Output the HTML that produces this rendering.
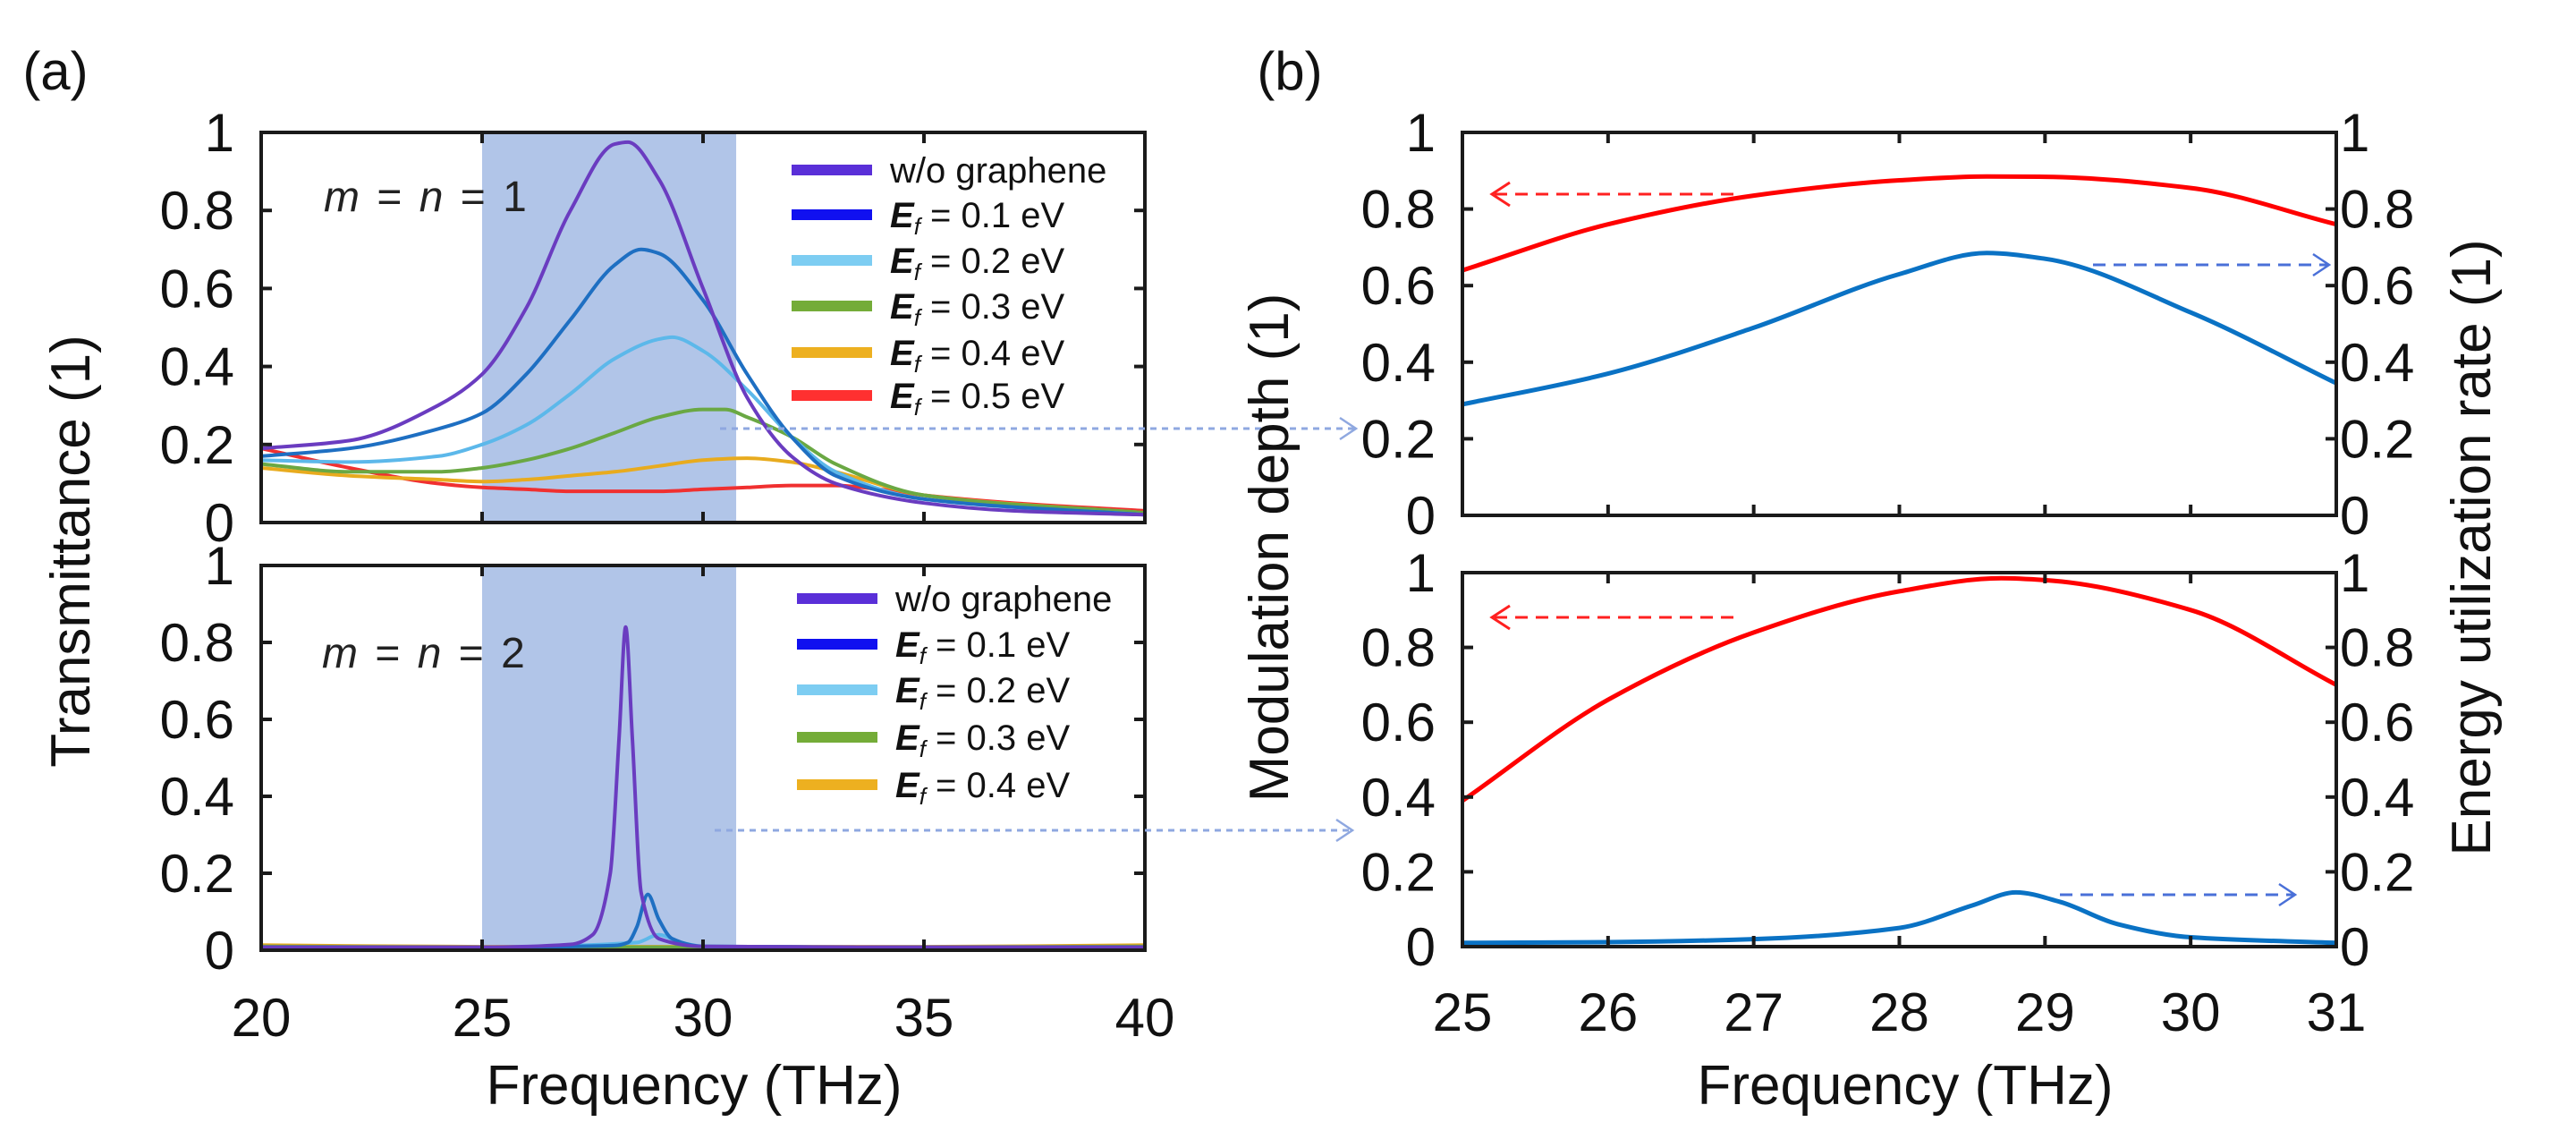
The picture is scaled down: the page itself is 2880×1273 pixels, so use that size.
<!DOCTYPE html>
<html><head><meta charset="utf-8"><style>
html,body{margin:0;padding:0;background:#fff}
svg{display:block;font-family:"Liberation Sans",Arial,sans-serif}
</style></head><body>
<svg id="fig" xmlns="http://www.w3.org/2000/svg" width="2880" height="1273" viewBox="0 0 2880 1273">
<defs>
<marker id="arB" markerWidth="30" markerHeight="30" refX="20" refY="14" orient="auto" markerUnits="userSpaceOnUse"><path d="M2,2 L20,14 L2,26" fill="none" stroke="#4a70d8" stroke-width="2.5"/></marker>
<marker id="arL" markerWidth="30" markerHeight="30" refX="20" refY="14" orient="auto" markerUnits="userSpaceOnUse"><path d="M2,2 L20,14 L2,26" fill="none" stroke="#8fa8e0" stroke-width="2.5"/></marker>
</defs>
<g id="root"></g>
</svg>
<script>
// ---- data: panel (a) ----
const aTopX = {
  wo:[20,22,24,25,26,27,28,28.3,29,30,31,32,33,35,37,40],
  e1:[20,22,24,25,26,27,28,28.6,29,30,31,32,33,35,40],
  e2:[20,22,24,25,26,27,28,29,29.3,30,31,32,33,35,40],
  e3:[20,22,24,25,26,27,28,29,30,30.5,31,32,33,35,40],
  e4:[20,22,24,25,26,27,28,29,30,31,32,33,35,40],
  e5:[20,22,24,25,26,27,28,29,30,31,32,33,34,35,37,40]
};
const aTopWo = [0.19,0.21,0.30,0.38,0.55,0.80,0.97,0.975,0.88,0.60,0.32,0.17,0.10,0.05,0.03,0.02];
const aTopE1 = [0.17,0.19,0.24,0.28,0.38,0.52,0.66,0.70,0.69,0.57,0.38,0.22,0.12,0.06,0.02];
const aTopE2 = [0.16,0.155,0.17,0.20,0.25,0.33,0.42,0.47,0.475,0.44,0.34,0.22,0.13,0.06,0.02];
const aTopE3 = [0.15,0.13,0.13,0.14,0.16,0.19,0.23,0.27,0.29,0.29,0.27,0.22,0.15,0.07,0.025];
const aTopE4 = [0.14,0.12,0.11,0.105,0.11,0.12,0.13,0.145,0.16,0.165,0.155,0.13,0.07,0.025];
const aTopE5 = [0.19,0.14,0.10,0.09,0.085,0.08,0.08,0.08,0.085,0.09,0.095,0.095,0.085,0.07,0.05,0.03];
const aBotX = {
  wo:[20,25,27,27.5,27.9,28.1,28.25,28.4,28.6,29,30,35,40],
  e1:[20,25,28,28.3,28.5,28.75,29,29.3,30,35,40],
  e2:[20,25,28.5,29,29.5,30,35,40],
  e3:[20,25,30,35,40],
  e4:[20,25,30,35,40]
};
const aBotWo = [0.008,0.008,0.015,0.04,0.2,0.55,0.84,0.55,0.15,0.03,0.01,0.008,0.008];
const aBotE1 = [0.008,0.008,0.012,0.02,0.06,0.145,0.08,0.03,0.01,0.008,0.008];
const aBotE2 = [0.008,0.008,0.02,0.04,0.02,0.01,0.008,0.008];
const aBotE3 = [0.01,0.008,0.008,0.008,0.01];
const aBotE4 = [0.012,0.008,0.008,0.008,0.012];
const aXTicks = [20,25,30,35,40];
const yTicks = [0,0.2,0.4,0.6,0.8,1];
const yTickLabels = ["0","0.2","0.4","0.6","0.8","1"];
const shadeRange = [25,30.75];
// ---- data: panel (b) ----
const bTopRedX = [25,26,27,28,28.6,29,30,31];
const bTopRed  = [0.64,0.76,0.835,0.875,0.885,0.884,0.855,0.76];
const bTopBlueX = [25,26,27,28,28.6,29,30,31];
const bTopBlue  = [0.29,0.37,0.49,0.63,0.685,0.67,0.53,0.345];
const bBotRedX = [25,26,27,28,28.7,29,30,31];
const bBotRed  = [0.39,0.66,0.84,0.95,0.985,0.98,0.90,0.70];
const bBotBlueX = [25,26,27,28,28.5,28.8,29.1,29.5,30,31];
const bBotBlue  = [0.01,0.012,0.02,0.05,0.11,0.145,0.12,0.06,0.025,0.01];
const bXTicks = [25,26,27,28,29,30,31];

const NS="http://www.w3.org/2000/svg";
const root=document.getElementById('root');
function mk(tag,attrs,parent){const e=document.createElementNS(NS,tag);for(const k in attrs)e.setAttribute(k,attrs[k]);(parent||root).appendChild(e);return e;}
function txt(s,attrs,parent){const e=mk('text',attrs,parent);e.textContent=s;return e;}
function lin(d0,d1,r0,r1){return v=>r0+(v-d0)/(d1-d0)*(r1-r0);}
// monotone cubic (Fritsch-Carlson) in pixel space
function smooth(pts){
  const n=pts.length;const dx=[],m=[],t=new Array(n);
  for(let i=0;i<n-1;i++){dx[i]=pts[i+1][0]-pts[i][0];m[i]=(pts[i+1][1]-pts[i][1])/dx[i];}
  t[0]=m[0];t[n-1]=m[n-2];
  for(let i=1;i<n-1;i++){if(m[i-1]*m[i]<=0)t[i]=0;else{const w1=2*dx[i]+dx[i-1],w2=dx[i]+2*dx[i-1];t[i]=(w1+w2)/(w1/m[i-1]+w2/m[i]);}}
  let d=`M${pts[0][0].toFixed(1)},${pts[0][1].toFixed(1)}`;
  for(let i=0;i<n-1;i++){const h=dx[i]/3;d+=` C${(pts[i][0]+h).toFixed(1)},${(pts[i][1]+t[i]*h).toFixed(1)} ${(pts[i+1][0]-h).toFixed(1)},${(pts[i+1][1]-t[i+1]*h).toFixed(1)} ${pts[i+1][0].toFixed(1)},${pts[i+1][1].toFixed(1)}`;}
  return d;}
function curve(xs,ys,sx,sy,color,w,name,g){const p=mk('path',{d:smooth(xs.map((x,i)=>[sx(x),sy(ys[i])])),fill:'none',stroke:color,'stroke-width':w,'stroke-linejoin':'round'},g);

return p;}

function panel(L,R,T,B,xd,xticks,name,rightTicks){
  const g=mk('g',{});
  
  
  const sx=lin(xd[0],xd[1],L,R), sy=lin(0,1,B,T);
  return {g,sx,sy,L,R,T,B,xticks,rightTicks};
}
function frame(P,showX){
  const {g,sx,sy,L,R,T,B}=P;
  const f=mk('rect',{x:L,y:T,width:R-L,height:B-T,fill:'none',stroke:'#1a1a1a','stroke-width':4},g);
  
  
  P.xticks.forEach(v=>{mk('line',{x1:sx(v),x2:sx(v),y1:B,y2:B-12,stroke:'#1a1a1a','stroke-width':4},g);mk('line',{x1:sx(v),x2:sx(v),y1:T,y2:T+12,stroke:'#1a1a1a','stroke-width':4},g);});
  yTicks.forEach((v,i)=>{mk('line',{x1:L,x2:L+12,y1:sy(v),y2:sy(v),stroke:'#1a1a1a','stroke-width':4},g);mk('line',{x1:R,x2:R-12,y1:sy(v),y2:sy(v),stroke:'#1a1a1a','stroke-width':4},g);
    const t=txt(yTickLabels[i],{x:L-30,y:sy(v)+21,'font-size':60,'text-anchor':'end',fill:'#111'},g);
    
    
    if(P.rightTicks){const t2=txt(yTickLabels[i],{x:R+4,y:sy(v)+21,'font-size':60,fill:'#111'},g);
      
      }
  });
  if(showX){P.xticks.forEach(v=>{const t=txt(String(v),{x:sx(v),y:showX,'font-size':60,'text-anchor':'middle',fill:'#111'},g);
    
    });}
}
function shade(P){const r=mk('rect',{x:P.sx(shadeRange[0]),y:P.T,width:P.sx(shadeRange[1])-P.sx(shadeRange[0]),height:P.B-P.T,fill:'#b1c5e8'},P.g);
  
  }
function legend(g,x,ys,items){items.forEach((it,i)=>{mk('line',{x1:x,x2:x+90,y1:ys[i],y2:ys[i],stroke:it[0],'stroke-width':12},g);
  const t=txt('',{x:x+110,y:ys[i]+14,'font-size':40,fill:'#111'},g);
  if(it[1]){const e=mk('tspan',{'font-style':'italic','font-weight':'bold'},t);e.textContent='E';const s=mk('tspan',{'font-size':26,'font-style':'italic',dy:8},t);s.textContent='f';const r=mk('tspan',{dy:-8},t);r.textContent=' = '+it[1];}
  else t.textContent='w/o graphene';
  
  });}

const C={wo:'#6a3cc0',e1:'#1e6fc2',e2:'#5cb8ea',e3:'#6aa843',e4:'#e8ab1e',e5:'#f03030'};
const LC={wo:'#5a2fd8',e1:'#1010f0',e2:'#7dcdf2',e3:'#74ac38',e4:'#edb020',e5:'#ff3030'};

// Panel a top
const aT=panel(292,1280,148,584,[20,40],aXTicks,'panel-a-top');
shade(aT);
curve(aTopX.e5,aTopE5,aT.sx,aT.sy,C.e5,4,'line-ef05',aT.g);
curve(aTopX.e4,aTopE4,aT.sx,aT.sy,C.e4,4,'line-ef04',aT.g);
curve(aTopX.e3,aTopE3,aT.sx,aT.sy,C.e3,4,'line-ef03',aT.g);
curve(aTopX.e2,aTopE2,aT.sx,aT.sy,C.e2,4,'line-ef02',aT.g);
curve(aTopX.e1,aTopE1,aT.sx,aT.sy,C.e1,4,'line-ef01',aT.g);
curve(aTopX.wo,aTopWo,aT.sx,aT.sy,C.wo,4,'line-wo-graphene',aT.g);
frame(aT,0);
legend(aT.g,885,[190,240,291,342,394,442],[[LC.wo,null],[LC.e1,'0.1 eV'],[LC.e2,'0.2 eV'],[LC.e3,'0.3 eV'],[LC.e4,'0.4 eV'],[LC.e5,'0.5 eV']]);
(function(){const t=txt('',{x:362,y:236,'font-size':48,fill:'#222','word-spacing':6},aT.g);t.innerHTML='<tspan font-style="italic">m</tspan> = <tspan font-style="italic">n</tspan> = 1';

})();

// Panel a bottom
const aB=panel(292,1280,632,1062,[20,40],aXTicks,'panel-a-bottom');
shade(aB);
curve(aBotX.e4,aBotE4,aB.sx,aB.sy,C.e4,5,'line-ef04',aB.g);
curve(aBotX.e3,aBotE3,aB.sx,aB.sy,C.e3,4,'line-ef03',aB.g);
curve(aBotX.e2,aBotE2,aB.sx,aB.sy,C.e2,4,'line-ef02',aB.g);
curve(aBotX.e1,aBotE1,aB.sx,aB.sy,C.e1,4,'line-ef01',aB.g);
curve(aBotX.wo,aBotWo,aB.sx,aB.sy,C.wo,4,'line-wo-graphene',aB.g);
frame(aB,1158);
legend(aB.g,891,[669,720,771,824,877],[[LC.wo,null],[LC.e1,'0.1 eV'],[LC.e2,'0.2 eV'],[LC.e3,'0.3 eV'],[LC.e4,'0.4 eV']]);
(function(){const t=txt('',{x:360,y:746,'font-size':48,fill:'#222','word-spacing':6},aB.g);t.innerHTML='<tspan font-style="italic">m</tspan> = <tspan font-style="italic">n</tspan> = 2';

})();

// Panel b
const bT=panel(1635,2612,148,576,[25,31],bXTicks,'panel-b-top',true);
curve(bTopRedX,bTopRed,bT.sx,bT.sy,'#ff0000',5,'modulation-depth-line',bT.g);
curve(bTopBlueX,bTopBlue,bT.sx,bT.sy,'#0a72c4',5,'energy-utilization-line',bT.g);
frame(bT,0);
const bB=panel(1635,2612,640,1058,[25,31],bXTicks,'panel-b-bottom',true);
curve(bBotRedX,bBotRed,bB.sx,bB.sy,'#ff0000',5,'modulation-depth-line',bB.g);
curve(bBotBlueX,bBotBlue,bB.sx,bB.sy,'#0a72c4',5,'energy-utilization-line',bB.g);
frame(bB,1152);

// arrows
function arrow(x1,y1,x2,y2,color,marker,dash,name,w){const l=mk('line',{x1,y1,x2,y2,stroke:color,'stroke-width':w||3,'stroke-dasharray':dash});
if(marker)l.setAttribute('marker-end',`url(#${marker})`);

}
arrow(1938,217,1668,217,'#ff2020',null,'14 9','red-arrow-top');
arrow(2340,296,2604,296,'#4a70d8','arB','14 9','blue-arrow-top');
arrow(1938,690,1668,690,'#ff2020',null,'14 9','red-arrow-bottom');
arrow(2303,1000,2566,1000,'#4a70d8','arB','14 9','blue-arrow-bottom');
arrow(805,479,1516,479,'#8fa8e0','arL','7 6','link-arrow-top',3);
arrow(799,928,1512,928,'#8fa8e0','arL','7 6','link-arrow-bottom',3);
[217,690].forEach(y=>{const p=mk('path',{d:`M1688,${y-13} L1668,${y} L1688,${y+13}`,fill:'none',stroke:'#ff2020','stroke-width':3});

});

// labels
function label(s,x,y,rot,name,size){const t=txt(s,{x,y,'font-size':size||62,'text-anchor':'middle',fill:'#111',transform:rot?`rotate(-90 ${x} ${y})`:''});

}
label('(a)',62,100,false,'panel-a-label',60);
label('(b)',1442,100,false,'panel-b-label',60);
label('Transmittance (1)',100,616,true,'y-axis-title-transmittance');
label('Modulation depth (1)',1440,612,true,'y-axis-title-modulation');
label('Energy utilization rate (1)',2784,612,true,'y-axis-title-energy');
label('Frequency (THz)',776,1234,false,'x-axis-title-a');
label('Frequency (THz)',2130,1234,false,'x-axis-title-b');
</script>
</body></html>
